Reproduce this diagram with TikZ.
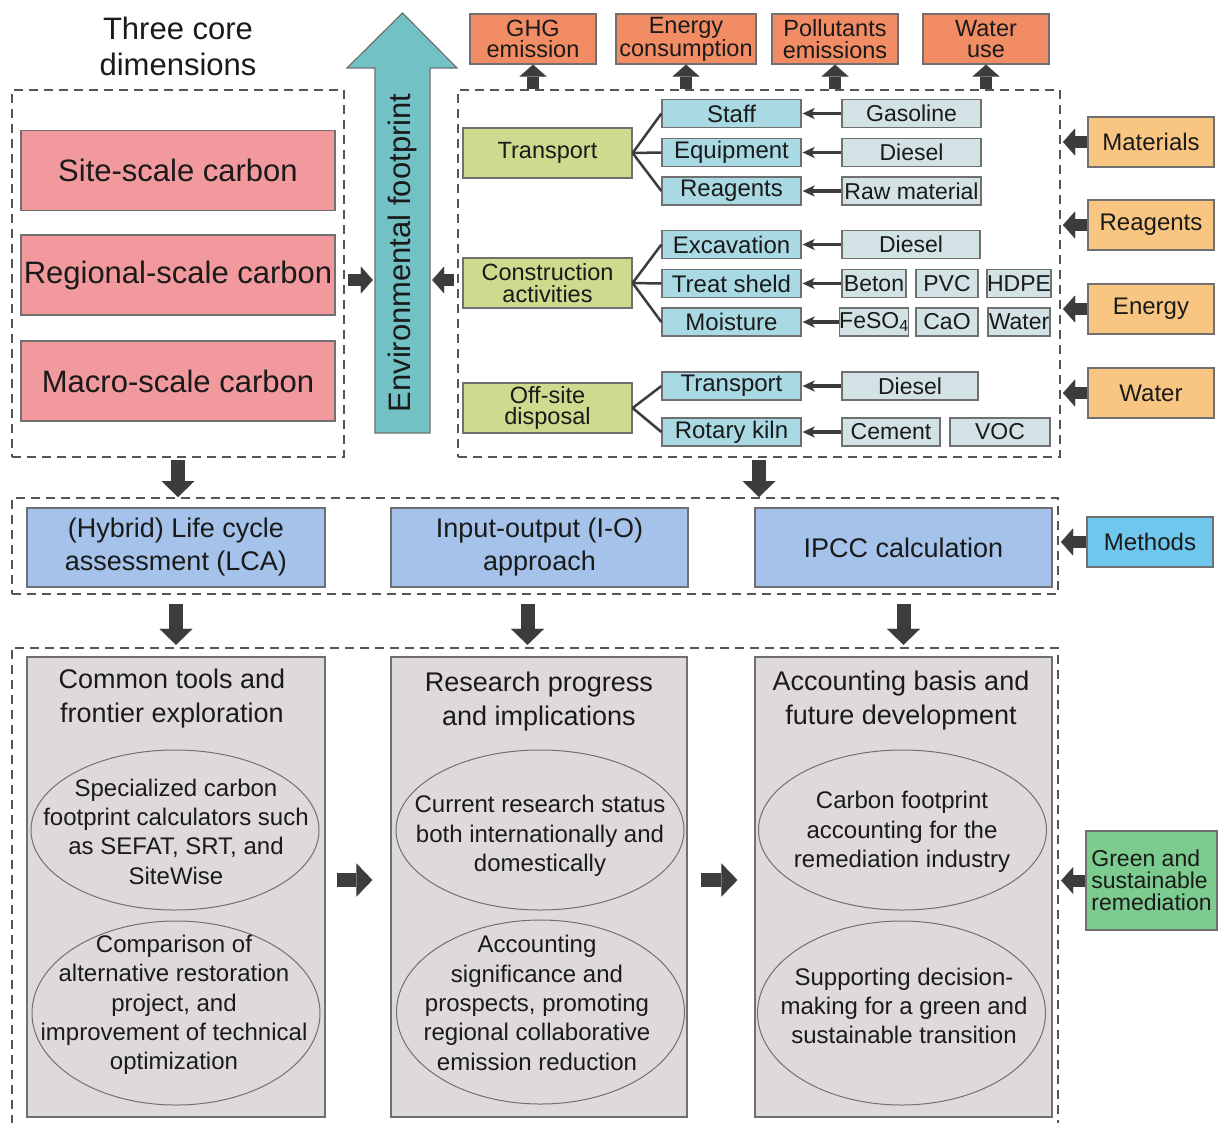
\documentclass[tikz,border=0pt]{standalone}
\usepackage{fontspec}
\setmainfont{Liberation Sans}
\usetikzlibrary{arrows.meta,shapes.geometric}
\definecolor{txt}{HTML}{1A1A1A}
\definecolor{bord}{HTML}{707070}
\definecolor{dash}{HTML}{555555}
\definecolor{arr}{HTML}{3C3C3C}
\definecolor{pinkc}{HTML}{F1999C}
\definecolor{tealc}{HTML}{72C2C5}
\definecolor{orangec}{HTML}{F28C64}
\definecolor{greenc}{HTML}{CCDB8E}
\definecolor{bluesm}{HTML}{A9D9E2}
\definecolor{graysm}{HTML}{D3E2E4}
\definecolor{orangeR}{HTML}{F8C681}
\definecolor{methc}{HTML}{6FC7EE}
\definecolor{midblue}{HTML}{A5C3EA}
\definecolor{panelc}{HTML}{DEDADA}
\definecolor{gsrc}{HTML}{7CCB8F}
\tikzset{
  base/.style={draw=bord, line width=1.2pt, inner sep=0pt, text=txt, align=center},
  dbox/.style={draw=dash, line width=2pt, dash pattern=on 9pt off 6pt, inner sep=0pt},
  pinkbox/.style={base, fill=pinkc, minimum width=314pt, minimum height=80pt, font=\fontsize{31}{36}\selectfont},
  topbox/.style={base, fill=orangec, minimum width=126pt, minimum height=50pt, font=\fontsize{23.5}{21.5}\selectfont},
  greenbox/.style={base, fill=greenc, minimum width=169pt, minimum height=50pt, font=\fontsize{23.5}{21.5}\selectfont},
  bluebox/.style={base, fill=bluesm, minimum width=139pt, minimum height=28pt, font=\fontsize{24}{26}\selectfont},
  graybox/.style={base, fill=graysm, minimum height=28pt, font=\fontsize{23}{26}\selectfont},
  rbox/.style={base, fill=orangeR, minimum width=126pt, minimum height=50pt, font=\fontsize{24}{26}\selectfont},
  methbox/.style={base, fill=midblue, minimum width=297pt, minimum height=79pt, font=\fontsize{27}{33}\selectfont},
  panel/.style={base, fill=panelc, minimum width=297pt, minimum height=460pt},
  ptitle/.style={text=txt, align=center, inner sep=0pt, font=\fontsize{27}{34}\selectfont},
  ell/.style={ellipse, draw=bord, line width=1pt, inner sep=0pt, minimum width=288pt},
  elltext/.style={text=txt, align=center, inner sep=0pt, font=\fontsize{24}{29.3}\selectfont},
  fatS/.style={draw=arr, line width=12pt, -{Triangle[length=12pt,width=27pt,line width=0.01pt]}},
  fatM/.style={draw=arr, line width=14pt, -{Triangle[length=16pt,width=33pt,line width=0.01pt]}},
  thinarr/.style={draw=arr, line width=3.5pt, -{Stealth[length=12pt,width=11pt,inset=3pt]}, shorten >=1pt},
  tree/.style={draw=arr, line width=2.5pt},
}
\begin{document}
\begin{tikzpicture}[x=1pt,y=-1pt]
\useasboundingbox[fill=white] (0,0) rectangle (1220,1122);

% ---------- left: three core dimensions ----------
\node[text=txt, align=center, inner sep=0pt, font=\fontsize{31}{36}\selectfont] (title) at (178,46) {Three core\\dimensions};
\node[dbox, minimum width=332pt, minimum height=367pt] (leftbox) at (178,273.5) {};
\node[pinkbox] (site) at (178,170.5) {Site-scale carbon};
\node[pinkbox] (regional) at (178,275) {Regional-scale carbon};
\node[pinkbox] (macro) at (178,381) {Macro-scale carbon};

% ---------- environmental footprint arrow ----------
\draw[draw=bord, fill=tealc, line width=1.2pt] (375,433) -- (430,433) -- (430,68) -- (457,68) -- (402.5,13) -- (347,68) -- (375,68) -- cycle;
\node[inner sep=0pt, minimum width=55pt, minimum height=365pt] (env) at (402.5,250.5) {};
\node[rotate=90, text=txt, inner sep=0pt, font=\fontsize{31}{36}\selectfont] (envtext) at (402,253) {Environmental footprint};
\coordinate (ylev) at (0,280);

% ---------- right dashed box ----------
\node[dbox, minimum width=602pt, minimum height=367pt] (rightbox) at (759,273.5) {};

% top outputs
\node[topbox] (ghg) at (533,39) {GHG\\emission};
\node[topbox, minimum width=140pt] (energyc) at (686,39) {Energy\\consumption};
\node[topbox] (poll) at (835,39) {Pollutants\\emissions};
\node[topbox] (wateruse) at (986,39) {Water\\use};

% green activities
\node[greenbox] (transport) at (547.5,153) {Transport};
\node[greenbox] (constr) at (547.5,283) {Construction\\activities};
\node[greenbox] (offsite) at (547.5,408) {Off-site\\disposal};

% blue items
\node[bluebox] (staff) at (731.5,113.5) {Staff};
\node[bluebox] (equip) at (731.5,152.5) {Equipment};
\node[bluebox] (reag) at (731.5,191) {Reagents};
\node[bluebox] (exc) at (731.5,244.5) {Excavation};
\node[bluebox] (treat) at (731.5,283.5) {Treat sheld};
\node[bluebox] (moist) at (731.5,322) {Moisture};
\node[bluebox] (transp) at (731.5,386) {Transport};
\node[bluebox] (kiln) at (731.5,432) {Rotary kiln};

% gray inputs
\node[graybox, minimum width=139pt] (gasoline) at (911.5,113.5) {Gasoline};
\node[graybox, minimum width=139pt] (diesela) at (911.5,152.5) {Diesel};
\node[graybox, minimum width=139pt] (raw) at (911.5,191) {Raw material};
\node[graybox, minimum width=138pt] (dieselb) at (911,244.5) {Diesel};
\node[graybox, minimum width=64pt] (beton) at (874,283.5) {Beton};
\node[graybox, minimum width=62pt] (pvc) at (947,283.5) {PVC};
\node[graybox, minimum width=62pt] (hdpe) at (1019,283.5) {HDPE};
\node[graybox, minimum width=64pt] (feso) at (874,322) {FeSO\textsubscript{4}};
\node[graybox, minimum width=62pt] (cao) at (947,322) {CaO};
\node[graybox, minimum width=62pt] (waterin) at (1019,322) {Water};
\node[graybox, minimum width=136pt] (dieselc) at (910,386) {Diesel};
\node[graybox, minimum width=98pt] (cement) at (891,432) {Cement};
\node[graybox, minimum width=100pt] (voc) at (1000,432) {VOC};

% tree connectors
\draw[tree] (transport.east) -- (staff.west);
\draw[tree] (transport.east) -- (equip.west);
\draw[tree] (transport.east) -- (reag.west);
\draw[tree] (constr.east) -- (exc.west);
\draw[tree] (constr.east) -- (treat.west);
\draw[tree] (constr.east) -- (moist.west);
\draw[tree] (offsite.east) -- (transp.west);
\draw[tree] (offsite.east) -- (kiln.west);

% input arrows
\draw[thinarr] (gasoline.west) -- (staff.east);
\draw[thinarr] (diesela.west) -- (equip.east);
\draw[thinarr] (raw.west) -- (reag.east);
\draw[thinarr] (dieselb.west) -- (exc.east);
\draw[thinarr] (beton.west) -- (treat.east);
\draw[thinarr] (feso.west) -- (moist.east);
\draw[thinarr] (dieselc.west) -- (transp.east);
\draw[thinarr] (cement.west) -- (kiln.east);

% up arrows to outputs
\draw[fatS] (ghg.south |- rightbox.north) -- (ghg.south);
\draw[fatS] (energyc.south |- rightbox.north) -- (energyc.south);
\draw[fatS] (poll.south |- rightbox.north) -- (poll.south);
\draw[fatS] (wateruse.south |- rightbox.north) -- (wateruse.south);

% arrows into environmental footprint
\draw[fatS, shorten <=3pt, shorten >=2pt] (leftbox.east |- ylev) -- (env.west |- ylev);
\draw[fatS, shorten <=3pt, shorten >=2pt] (rightbox.west |- ylev) -- (env.east |- ylev);

% right-side resources
\node[rbox] (materials) at (1151,142) {Materials};
\node[rbox] (reagents) at (1151,225) {Reagents};
\node[rbox] (energy) at (1151,309) {Energy};
\node[rbox] (water) at (1151,393) {Water};
\draw[fatS, shorten >=2pt] (materials.west) -- (rightbox.east |- materials.west);
\draw[fatS, shorten >=2pt] (reagents.west) -- (rightbox.east |- reagents.west);
\draw[fatS, shorten >=2pt] (energy.west) -- (rightbox.east |- energy.west);
\draw[fatS, shorten >=2pt] (water.west) -- (rightbox.east |- water.west);

% ---------- methods row ----------
\node[dbox, minimum width=1046pt, minimum height=96pt] (midbox) at (535,546) {};
\node[methbox, minimum width=298pt] (lca) at (176,547.5) {(Hybrid) Life cycle\\assessment (LCA)};
\node[methbox] (io) at (539.5,547.5) {Input-output (I-O)\\approach};
\node[methbox] (ipcc) at (903.5,547.5) {IPCC calculation};
\node[base, fill=methc, minimum width=126pt, minimum height=50pt, font=\fontsize{24}{26}\selectfont] (methods) at (1150,542) {Methods};
\draw[fatS, shorten >=2pt] (methods.west) -- (midbox.east |- methods.west);

\draw[fatM, shorten <=2pt] (leftbox.south) -- (leftbox.south |- midbox.north);
\draw[fatM, shorten <=2pt] (rightbox.south) -- (rightbox.south |- midbox.north);

% ---------- bottom panels ----------
\node[inner sep=0pt, minimum width=1046pt, minimum height=476pt] (botbox) at (535,886) {};
\draw[dbox] (botbox.south west) -- (botbox.north west) -- (botbox.north east) -- (botbox.south east);

\draw[fatM, shorten <=9pt, shorten >=3pt] (midbox.south -| lca.south) -- (botbox.north -| lca.south);
\draw[fatM, shorten <=9pt, shorten >=3pt] ([xshift=-12pt]midbox.south -| io.south) -- ([xshift=-12pt]botbox.north -| io.south);
\draw[fatM, shorten <=9pt, shorten >=3pt] (midbox.south -| ipcc.south) -- (botbox.north -| ipcc.south);

\node[panel, minimum width=298pt] (p1) at (176,887) {};
\node[panel, minimum width=296pt] (p2) at (539,887) {};
\node[panel] (p3) at (903.5,887) {};

\node[ptitle] (p1t) at (172,699) {Common tools and\\frontier exploration};
\node[ptitle] (p2t) at (539,702) {Research progress\\and implications};
\node[ptitle] (p3t) at (901,701) {Accounting basis and\\future development};

\node[ell, minimum height=160pt] (e11) at (175,830) {};
\node[ell, minimum height=184pt] (e12) at (176,1013) {};
\node[ell, minimum height=160pt] (e21) at (540,830) {};
\node[ell, minimum height=184pt] (e22) at (540.5,1012) {};
\node[ell, minimum height=160pt] (e31) at (902.5,830) {};
\node[ell, minimum height=184pt] (e32) at (901.5,1013) {};

\node[elltext] (t11) at (176,831.5) {Specialized carbon\\footprint calculators such\\as SEFAT, SRT, and\\SiteWise};
\node[elltext] (t12) at (174,1005) {Comparison of\\alternative restoration\\project, and\\improvement of technical\\optimization};
\node[elltext] (t21) at (540,836) {Current research status\\both internationally and\\domestically};
\node[elltext] (t22) at (537,1003) {Accounting\\significance and\\prospects, promoting\\regional collaborative\\emission reduction};
\node[elltext] (t31) at (902,832) {Carbon footprint\\accounting for the\\remediation industry};
\node[elltext] (t32) at (904,1006) {Supporting decision-\\making for a green and\\sustainable transition};

\coordinate (yarr) at (0,880);
\draw[fatM, shorten <=11pt, shorten >=18pt] (p1.east |- yarr) -- (p2.west |- yarr);
\draw[fatM, shorten <=13pt, shorten >=17pt] (p2.east |- yarr) -- (p3.west |- yarr);

\node[base, fill=gsrc, minimum width=131pt, minimum height=99pt, font=\fontsize{23}{22}\selectfont, align=left] (gsr) at (1151.5,880.5) {Green and\\sustainable\\remediation};
\draw[fatS, shorten >=3pt] (gsr.west) -- (botbox.east |- gsr.west);
\end{tikzpicture}
\end{document}
